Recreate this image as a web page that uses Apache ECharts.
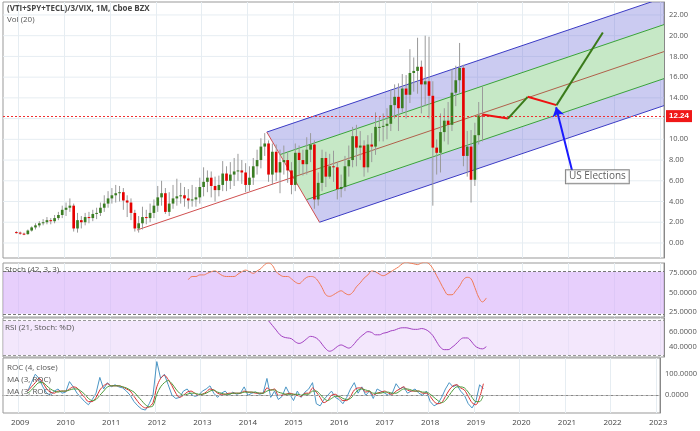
<!DOCTYPE html>
<html><head><meta charset="utf-8">
<script src="https://cdn.jsdelivr.net/npm/echarts@6/dist/echarts.min.js"></script>
<style>html,body{margin:0;padding:0;background:#fff}#c{width:700px;height:431px}</style>
</head><body><div id="c"></div>
<script>
// ---- data ----
const candleStart = '2008-12';
const opens = [1.05,1.0,0.9,0.85,1.2,1.5,1.7,1.9,2.0,2.2,2.1,2.4,
 2.7,3.2,3.4,3.6,1.4,2.2,2.0,2.5,2.4,2.8,2.9,3.4,
 3.8,4.3,4.6,4.8,4.9,4.1,3.9,2.9,1.4,1.9,2.5,2.4,
 2.9,3.6,4.4,4.8,3.0,3.8,4.3,4.5,4.6,4.3,4.1,4.2,
 4.4,5.4,5.9,6.3,5.5,5.1,5.6,6.7,6.0,6.6,6.9,7.0,
 6.8,5.6,6.3,7.4,8.0,9.3,9.6,6.6,8.8,6.8,7.8,8.0,
 7.0,5.6,8.7,8.0,7.6,9.0,9.5,4.2,5.8,8.2,6.4,7.4,
 7.3,5.2,5.4,7.4,8.0,10.3,9.2,9.4,7.3,9.5,9.3,11.2,
 11.2,11.3,11.5,13.3,14.1,13.0,14.9,14.3,16.4,16.6,17.0,15.3,
 15.6,14.2,9.2,8.7,10.7,11.8,11.4,14.5,15.7,16.9,8.4,9.3,
 6.1,10.4,12.3];
const closes = [1.0,0.9,0.85,1.2,1.5,1.7,1.9,2.0,2.2,2.1,2.4,2.7,
 3.2,3.4,3.6,1.4,2.2,2.0,2.5,2.4,2.8,2.9,3.4,3.8,
 4.3,4.6,4.8,4.9,4.1,3.9,2.9,1.4,1.9,2.5,2.4,2.9,
 3.6,4.4,4.8,3.0,3.8,4.3,4.5,4.6,4.3,4.1,4.2,4.4,
 5.4,5.9,6.3,5.5,5.1,5.6,6.7,6.0,6.6,6.9,7.0,6.8,
 5.6,6.3,7.4,8.0,9.3,9.6,6.6,8.8,6.8,7.8,8.0,7.0,
 5.6,8.7,8.0,7.6,9.0,9.5,4.2,5.8,8.2,6.4,7.4,7.3,
 5.2,5.4,7.4,8.0,10.3,9.2,9.4,7.3,9.5,9.3,11.2,11.2,
 11.3,11.5,13.3,14.1,13.0,14.9,14.3,16.4,16.6,17.0,15.3,15.6,
 14.2,9.2,8.7,10.7,11.8,11.4,14.5,15.7,16.9,8.4,9.3,6.1,
 10.4,12.3,12.24];
const highs = [1.15,1.1,1.0,1.3,1.6,1.9,2.1,2.3,2.5,2.4,2.7,3.0,
 3.6,3.9,4.3,3.8,2.9,2.6,2.9,3.0,3.2,3.4,3.9,4.6,
 5.0,5.3,5.6,5.5,5.3,4.6,4.3,3.2,2.6,3.5,3.2,3.8,
 4.2,5.5,6.0,5.3,4.9,5.6,6.2,5.8,5.4,5.2,5.6,5.4,
 6.3,7.3,7.0,6.9,6.4,6.5,7.9,7.4,7.8,8.2,8.6,8.0,
 7.7,7.4,8.2,9.0,10.1,10.6,9.9,9.6,9.5,9.0,9.4,8.8,
 7.8,9.6,9.4,9.0,10.2,10.6,9.9,6.8,9.0,8.8,8.6,8.9,
 7.8,6.6,8.4,9.4,11.2,11.4,10.8,9.9,10.4,10.6,12.6,12.2,
 12.5,13.0,14.8,15.3,15.4,16.3,16.2,18.7,17.9,19.8,17.6,20.0,
 19.9,15.6,10.0,12.5,13.0,13.6,16.8,17.1,19.3,17.2,10.8,10.9,
 11.6,13.6,15.1];
const lows = [0.9,0.8,0.75,0.8,1.1,1.3,1.5,1.7,1.8,1.8,1.9,2.2,
 2.4,2.6,3.0,1.1,1.0,1.4,1.7,1.9,2.1,2.3,2.6,3.0,
 3.4,3.8,3.9,4.0,3.2,2.5,2.2,1.1,1.0,1.3,1.8,2.0,
 2.4,3.0,3.6,2.8,2.6,3.3,3.6,3.8,3.5,3.3,3.5,3.5,
 3.8,4.5,4.9,4.4,4.0,4.5,5.0,5.0,5.2,5.5,6.0,5.7,
 4.9,5.0,5.6,6.6,7.2,8.4,5.9,5.6,6.0,4.8,6.6,5.8,
 4.7,5.0,6.6,6.5,6.6,7.8,3.3,3.6,5.0,5.4,6.2,5.9,
 4.2,4.4,5.0,6.4,7.3,7.4,8.0,6.4,6.8,7.8,8.5,9.8,
 9.8,10.0,10.8,12.0,10.8,12.6,12.0,13.5,14.6,14.4,12.5,13.2,
 12.0,3.6,6.6,6.8,9.8,9.5,10.8,13.2,14.5,7.4,6.4,3.9,
 5.5,9.5,9.8];
const lastPrice = 12.24;
const priceTicks = [0,2,4,6,8,10,12,14,16,18,20,22];

const stochStart = '2012-09';
const stoch = [66,70,70,72,72,74,76,77,74,71,70,70,70,73,76,78,
 76,74,77,80,85,87,84,76,72,70,70,67,
 63,61,65,69,70,69,64,56,47,45,47,50,
 52,49,47,50,57,62,68,72,77,76,73,71,
 73,76,79,82,86,88,87,86,85,87,88,86,
 80,71,62,53,47,47,52,58,66,69,67,56,
 44,38,43];
const rsiStart = '2014-06';
const rsi = [74,68,62,56,53,52,51,
 47,45,47,51,54,53,50,44,38,35,37,41,
 43,41,39,42,48,53,57,60,59,56,56,58,
 59,61,62,64,65,65,64,63,63,64,63,60,
 55,47,40,37,37,40,44,49,52,52,48,42,
 39,38,41];
const rocStart = '2009-03';
const roc = [20,60,100,80,40,10,0,20,30,10,
 15,65,40,10,-10,-30,-45,-20,10,85,30,60,
 40,50,40,35,20,0,-30,-50,-65,-70,-40,0,
 160,80,100,50,0,-15,-10,20,30,5,-5,0,
 20,30,45,10,-10,10,20,0,15,5,10,40,
 0,10,15,5,10,80,-10,20,-20,-5,40,5,
 -25,20,-10,15,30,60,-40,-50,-20,0,20,-10,
 -20,-40,-10,30,60,10,40,0,20,-15,30,20,
 10,0,10,55,30,40,10,20,30,10,0,20,
 -30,-50,-40,-10,30,60,40,50,20,0,-40,-60,
 -30,50,30];
const rocMaRed = [20,40,60,80,60,30,15,10,20,20,
 20,30,40,35,10,-10,-30,-30,-10,25,45,55,
 45,45,45,40,30,20,-5,-30,-50,-60,-55,-35,
 40,80,95,75,45,10,-10,0,15,20,10,0,
 5,15,30,25,10,5,5,10,10,10,10,20,
 15,15,10,10,10,35,25,30,0,0,5,10,
 5,0,-5,10,10,35,15,-10,-35,-25,0,5,
 -10,-25,-25,-5,25,35,35,15,20,0,10,15,
 20,10,5,20,30,40,25,20,20,20,10,10,
 -5,-30,-40,-35,-5,25,45,50,35,25,-5,-35,
 -45,-10,55];
const rocMaGreen = [10,25,45,60,60,45,30,20,15,20,
 20,25,30,30,20,5,-15,-25,-20,0,20,40,
 45,45,45,40,35,25,15,-5,-25,-45,-55,-50,
 5,40,60,70,55,30,10,0,5,10,10,5,
 5,10,20,25,15,10,5,5,10,10,10,15,
 15,15,15,10,10,20,25,25,15,10,5,5,
 5,5,0,5,5,20,20,5,-15,-25,-15,-5,
 -5,-15,-20,-15,5,25,30,25,20,10,10,10,
 15,15,10,10,20,30,30,25,20,20,15,15,
 5,-10,-25,-35,-25,0,25,40,40,35,15,-10,
 -30,-30,0];

// pitchfork anchor points [decimal year, price]
const forkA = [2011.59, 1.25];
const forkB = [2014.42, 10.7];
const forkC = [2015.57, 2.0];
// forecast path [decimal year, price]
const fcX = [2019.12, 2019.68, 2020.11, 2020.74, 2021.75];
const fcY = [12.4, 12.0, 14.1, 13.3, 20.3];
const fcColors = ['#ee1111','#3a7a1a','#ee1111','#3a7a1a'];
const noteText = 'US Elections';
const notePos = [2021.63, 6.4];
const arrowFrom = [2021.08, 6.95];
const arrowTo = [2020.73, 13.1];

// ---- build ----
const axisStartYear = 2008, axisStartMonth = 9, nMonths = 173;
const xMin = axisStartYear + (axisStartMonth-1)/12, xMax = xMin + nMonths/12;
const cats = [];
for (let i=0;i<nMonths;i++){const t=axisStartYear*12+axisStartMonth-1+i;cats.push(Math.floor(t/12)+'-'+String(t%12+1).padStart(2,'0'));}
const idxOf = s => cats.indexOf(s);
const isJan = (i) => cats[i] && cats[i].endsWith('-01');

const c0 = idxOf(candleStart);
const candles = opens.map((o,i)=>[c0+i,o,closes[i],lows[i],highs[i]]);
const pairs = (start, arr) => { const s=idxOf(start); return arr.map((v,i)=>[s+i,v]); };

const grids = [
 {left:3,right:36,top:2,height:256},
 {left:3,right:36,top:263,height:54},
 {left:3,right:36,top:318,height:39},
 {left:3,right:36,top:358,height:55}
];
const gl = '#e6edf2';
const xAxes = grids.map((g,gi)=>({type:'category',gridIndex:gi,data:cats,boundaryGap:true,
  axisLine:{show:gi===3,lineStyle:{color:'#888'}},axisTick:{show:false},
  axisLabel:{show:gi===3,interval:(i)=>isJan(i),formatter:v=>v.slice(0,4),color:'#444',fontSize:8,fontFamily:'Open Sans',margin:6},
  splitLine:{show:true,interval:(i)=>isJan(i),lineStyle:{color:gl}}}));
xAxes.push({type:'value',gridIndex:0,min:xMin,max:xMax,show:false});
const yBase = (gi,min,max,vals,fmt)=>({type:'value',gridIndex:gi,position:'right',min,max,
  axisLine:{show:true,lineStyle:{color:'#888'}},axisTick:{show:false},splitLine:{show:false},
  axisLabel:{customValues:vals,formatter:fmt,color:'#555',fontSize:7.5,fontFamily:'Open Sans',margin:5}});
const yAxes = [
 yBase(0,-1.45,23.25,priceTicks,v=>v.toFixed(2)),
 yBase(1,19,87,[25,50,75],v=>v.toFixed(4)),
 yBase(2,27.6,77.5,[40,60],v=>v.toFixed(4)),
 yBase(3,-84,177,[0,100],v=>v.toFixed(4))
];

function forkRender(params, api){
  const slope = ((forkB[1]+forkC[1])/2 - forkA[1]) / ((forkB[0]+forkC[0])/2 - forkA[0]);
  const ext = p => [xMax, p[1] + slope*(xMax-p[0])];
  const M = [(forkB[0]+forkC[0])/2,(forkB[1]+forkC[1])/2];
  const Q1 = [(forkB[0]+M[0])/2,(forkB[1]+M[1])/2];
  const Q3 = [(forkC[0]+M[0])/2,(forkC[1]+M[1])/2];
  const P = p => api.coord(p);
  const poly = (pts, fill) => ({type:'polygon',shape:{points:pts.map(P)},style:{fill,stroke:null}});
  const line = (a,b,color,w) => ({type:'line',shape:{x1:P(a)[0],y1:P(a)[1],x2:P(b)[0],y2:P(b)[1]},style:{stroke:color,lineWidth:w||1}});
  const children = priceTicks.map(t=>line([xMin,t],[xMax,t],gl,1));
  children.push(
    poly([forkB,ext(forkB),ext(forkC),forkC],'rgba(110,110,215,0.36)'),
    poly([Q1,ext(Q1),ext(Q3),Q3],'#c6e8c6'),
    line(forkB,ext(forkB),'#3b3bc4',1),
    line(forkC,ext(forkC),'#3b3bc4',1),
    line(Q1,ext(Q1),'#3aa33a',1),
    line(Q3,ext(Q3),'#3aa33a',1),
    line(forkA,M,'#d05050',1),
    line(M,ext(M),'#b0604a',1),
    line(forkB,forkC,'#d05050',1)
  );
  return {type:'group',children};
}
function candleRender(params, api){
  const x = api.value(0);
  const o=api.coord([x,api.value(1)]), c=api.coord([x,api.value(2)]);
  const l=api.coord([x,api.value(3)]), h=api.coord([x,api.value(4)]);
  const w = api.size([1,0])[0]*0.7;
  const up = api.value(2)>=api.value(1);
  const top=Math.min(o[1],c[1]), ht=Math.max(1,Math.abs(o[1]-c[1]));
  return {type:'group',children:[
    {type:'line',shape:{x1:h[0],y1:h[1],x2:l[0],y2:l[1]},style:{stroke:'#9a9a9a',lineWidth:1}},
    {type:'rect',shape:{x:o[0]-w/2,y:top,width:w,height:ht},style:{fill:up?'#3a7d22':'#e60000'}}
  ]};
}

const series = [
 {type:'custom',xAxisIndex:4,yAxisIndex:0,renderItem:forkRender,data:[[2015,5]],silent:true,z:1,clip:true},
 {type:'custom',xAxisIndex:0,yAxisIndex:0,renderItem:candleRender,data:candles,z:3,encode:{x:0,y:[1,2,3,4]},
  markLine:{silent:true,symbol:'none',data:[{yAxis:lastPrice}],lineStyle:{color:'#f03030',type:[2,2],width:1},
   label:{position:'end',formatter:()=>lastPrice.toFixed(2),backgroundColor:'#f01818',color:'#fff',fontSize:8,padding:[2,3],distance:2,fontWeight:'bold'}}}
];
for (let i=0;i<fcX.length-1;i++){
  series.push({type:'line',xAxisIndex:4,yAxisIndex:0,data:[[fcX[i],fcY[i]],[fcX[i+1],fcY[i+1]]],symbol:'none',
    lineStyle:{color:fcColors[i],width:2},z:5,silent:true});
}
series.push({type:'scatter',xAxisIndex:4,yAxisIndex:0,data:[notePos],symbolSize:0,z:6,
  label:{show:true,position:'inside',formatter:noteText,backgroundColor:'#fff',borderColor:'#666',borderWidth:1,padding:[2,3,1,3],color:'#333',fontSize:10,fontFamily:'Open Sans'},
  markLine:{silent:true,symbol:['none','arrow'],symbolSize:9,data:[[{coord:arrowFrom},{coord:arrowTo}]],lineStyle:{color:'#1a1aff',width:2,type:'solid'},label:{show:false}}});
// stoch
series.push({type:'line',xAxisIndex:1,yAxisIndex:1,data:pairs(stochStart,stoch),symbol:'none',smooth:0.4,lineStyle:{color:'#f07a55',width:1},
  markArea:{silent:true,itemStyle:{color:'rgba(215,175,250,0.6)'},data:[[{yAxis:23},{yAxis:76}]]},
  markLine:{silent:true,symbol:'none',label:{show:false},lineStyle:{color:'#777',type:[3,2],width:1},data:[{yAxis:23},{yAxis:76}]}});
// rsi
series.push({type:'line',xAxisIndex:2,yAxisIndex:2,data:pairs(rsiStart,rsi),symbol:'none',smooth:0.4,lineStyle:{color:'#a13fc0',width:1},
  markArea:{silent:true,itemStyle:{color:'rgba(235,215,250,0.6)'},data:[[{yAxis:30},{yAxis:74}]]},
  markLine:{silent:true,symbol:'none',label:{show:false},lineStyle:{color:'#999',type:[3,2],width:1},data:[{yAxis:30},{yAxis:74}]}});
// roc
series.push({type:'line',xAxisIndex:3,yAxisIndex:3,data:pairs(rocStart,roc),symbol:'none',lineStyle:{color:'#4a95c4',width:1},
  markLine:{silent:true,symbol:'none',label:{show:false},lineStyle:{color:'#bbb',type:[3,2],width:1},data:[{yAxis:0}]}});
series.push({type:'line',xAxisIndex:3,yAxisIndex:3,data:pairs(rocStart,rocMaRed),symbol:'none',smooth:0.3,lineStyle:{color:'#d83030',width:1}});
series.push({type:'line',xAxisIndex:3,yAxisIndex:3,data:pairs(rocStart,rocMaGreen),symbol:'none',smooth:0.3,lineStyle:{color:'#4a9a3a',width:1}});

const txt = (x,y,t,extra)=>({type:'text',left:x,top:y,z:20,style:Object.assign({text:t,fill:'#555',font:'8px "Open Sans"'},extra||{})});
const chart = echarts.init(document.getElementById('c'),null,{renderer:'canvas'});
chart.setOption({
  animation:false,
  grid:grids.map(g=>Object.assign({show:true,borderColor:'#999',borderWidth:1,backgroundColor:'transparent'},g)),
  xAxis:xAxes, yAxis:yAxes, series,
  graphic:[
    txt(7,5,'(VTI+SPY+TECL)/3/VIX, 1M, Cboe BZX',{fill:'#444',font:'bold 8px "Open Sans"'}),
    txt(7,16,'Vol (20)'),
    txt(5,266,'Stoch (42, 3, 3)'),
    txt(5,324,'RSI (21, Stoch: %D)'),
    txt(7,364,'ROC (4, close)'),
    txt(7,376,'MA (3, ROC)'),
    txt(7,388,'MA (3, ROC)')
  ]
});
</script></body></html>
